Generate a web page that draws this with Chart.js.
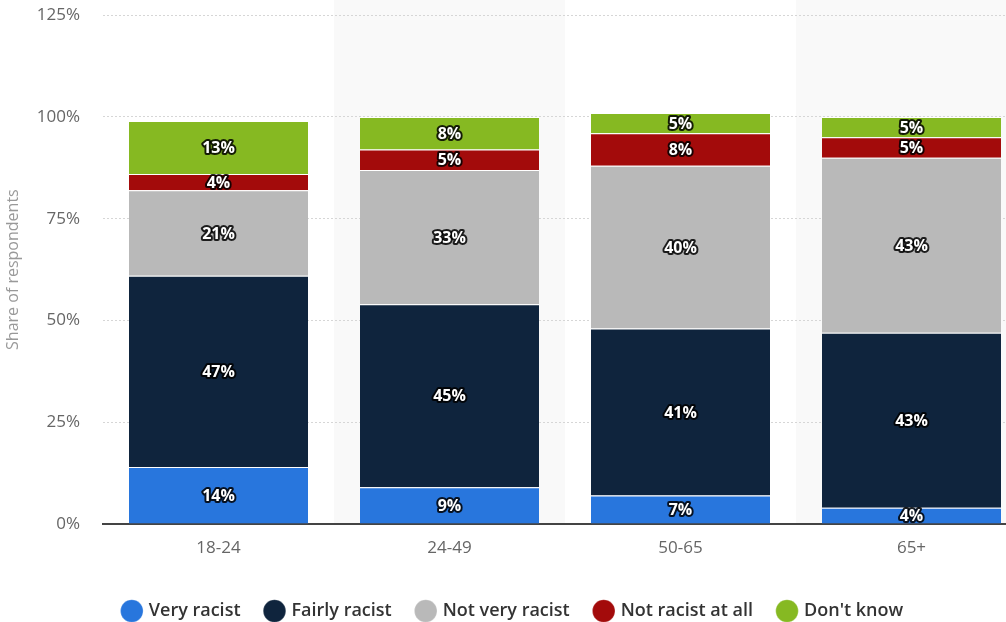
<!DOCTYPE html>
<html>
<head>
<meta charset="utf-8">
<script src="https://cdn.jsdelivr.net/npm/chart.js@4/dist/chart.umd.min.js"></script>
<style>
  html, body { margin: 0; padding: 0; background: #fff; overflow: hidden; }
  #wrap { width: 1027px; height: 648px; margin-top: -18px; }
</style>
</head>
<body>
<div id="wrap"><canvas id="chart" width="1027" height="648"></canvas></div>
<script>
const ageGroups = ['18-24', '24-49', '50-65', '65+'];
const veryRacist = [14, 9, 7, 4];
const fairlyRacist = [47, 45, 41, 43];
const notVeryRacist = [21, 33, 40, 43];
const notRacistAtAll = [4, 5, 8, 5];
const dontKnow = [13, 8, 5, 5];
const yTicks = [0, 25, 50, 75, 100, 125];

const fontFamily = '"Open Sans", "DejaVu Sans", sans-serif';

// light bands behind every second category
const bandPlugin = {
  id: 'bands',
  beforeDraw(chart) {
    const { ctx, chartArea, scales } = chart;
    const x = scales.x;
    const step = (chartArea.right - chartArea.left) / ageGroups.length;
    ctx.save();
    ctx.fillStyle = '#f9f9f9';
    ageGroups.forEach((g, i) => {
      if (i % 2 === 1) {
        const cx = x.getPixelForValue(i);
        ctx.fillRect(cx - step / 2, 0, step, chartArea.bottom);
      }
    });
    ctx.restore();
  }
};

// value labels in the middle of each segment
const labelPlugin = {
  id: 'segLabels',
  afterDatasetsDraw(chart) {
    const { ctx } = chart;
    ctx.save();
    ctx.font = 'bold 16px ' + fontFamily;
    ctx.textAlign = 'center';
    ctx.textBaseline = 'middle';
    ctx.lineJoin = 'round';
    chart.data.datasets.forEach((ds, di) => {
      const meta = chart.getDatasetMeta(di);
      meta.data.forEach((bar, i) => {
        const txt = ds.data[i] + '%';
        const y = (bar.y + bar.base) / 2 + 1;
        ctx.lineWidth = 4;
        ctx.strokeStyle = 'rgba(0,0,0,0.85)';
        ctx.strokeText(txt, bar.x, y);
        ctx.fillStyle = '#fff';
        ctx.fillText(txt, bar.x, y);
      });
    });
    ctx.restore();
  }
};

const makeSet = (label, data, color) => ({
  label,
  data,
  backgroundColor: color,
  borderColor: '#ffffff',
  borderWidth: { top: 1, bottom: 0, left: 0, right: 0 },
  borderSkipped: false,
  categoryPercentage: 0.775,
  barPercentage: 1
});

new Chart(document.getElementById('chart'), {
  type: 'bar',
  data: {
    labels: ageGroups,
    datasets: [
      makeSet('Very racist', veryRacist, '#2876dd'),
      makeSet('Fairly racist', fairlyRacist, '#0f243d'),
      makeSet('Not very racist', notVeryRacist, '#b9b9b9'),
      makeSet('Not racist at all', notRacistAtAll, '#a30b0b'),
      makeSet("Don't know", dontKnow, '#86b922')
    ]
  },
  options: {
    responsive: false,
    animation: false,
    layout: { padding: { top: 0, right: 0, left: 0, bottom: 0 } },
    plugins: {
      legend: {
        position: 'bottom',
        labels: {
          usePointStyle: true,
          pointStyle: 'circle',
          boxWidth: 16,
          boxHeight: 16,
          padding: 26,
          color: '#333',
          font: { family: fontFamily, size: 18, weight: '600' }
        }
      },
      tooltip: { enabled: false }
    },
    scales: {
      x: {
        stacked: true,
        grid: { display: false },
        afterFit(scale) { scale.height = 52; },
        border: { display: true, color: '#444', width: 2 },
        ticks: { color: '#666', font: { family: fontFamily, size: 17 }, padding: 6 }
      },
      y: {
        stacked: true,
        min: 0,
        max: 125,
        afterBuildTicks(scale) {
          scale.ticks = yTicks.map(v => ({ value: v }));
        },
        afterFit(scale) { scale.width = 103; },
        grid: { color: '#d6d6d6', tickLength: 0, drawTicks: false },
        border: { display: false, dash: [2, 2] },
        ticks: {
          color: '#666',
          padding: 23,
          font: { family: fontFamily, size: 17 },
          callback: v => v + '%'
        },
        title: {
          display: true,
          text: 'Share of respondents',
          color: '#999',
          font: { family: fontFamily, size: 16 },
          padding: { top: 4, bottom: 0 }
        }
      }
    }
  },
  plugins: [bandPlugin, labelPlugin]
});
</script>
</body>
</html>
